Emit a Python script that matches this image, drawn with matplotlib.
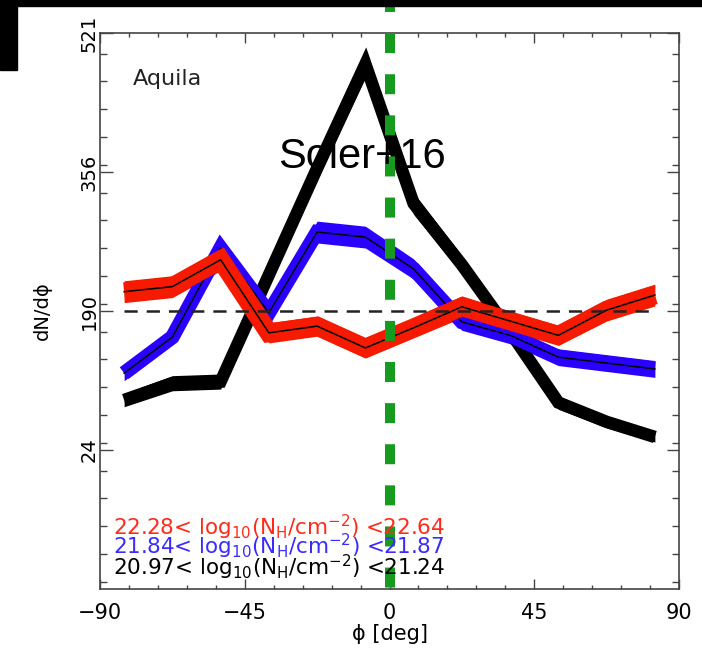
import matplotlib
matplotlib.use("Agg")
import matplotlib.pyplot as plt
from matplotlib.patches import Rectangle
from matplotlib.ticker import FixedLocator, MultipleLocator

plt.rcParams['font.family'] = ['DejaVu Sans']
plt.rcParams['lines.scale_dashes'] = False

# bin centres of the relative orientation angle
phi = [-82.5, -67.5, -52.5, -37.5, -22.5, -7.5, 7.5, 22.5, 37.5, 52.5, 67.5, 82.5]

# histograms for the three column-density bins, with their uncertainty
hist_low = [84, 104, 106, 233, 360, 484, 318, 245, 165, 81, 58, 40]
err_low = [8, 9, 9, 12, 14, 16, 13, 11, 9, 8, 7, 6]

hist_mid = [116, 159, 265, 188, 284, 278, 240, 177, 161, 135, 128, 121]
err_mid = [9, 9, 11, 9, 13, 13, 12, 10, 10, 10, 10, 10]

hist_high = [213, 219, 251, 164, 172, 146, 170, 195, 178, 161, 191, 209]
err_high = [13, 13, 13, 12, 12, 12, 12, 13, 12, 12, 13, 13]

mean_level = 190

ylim = (-141, 521)
ytick_values = [24.5, 190, 355.5, 521]
ytick_labels = ['24', '190', '356', '521']
xtick_values = [-90, -45, 0, 45, 90]

bin_labels = [
    ('22.28< log$_{10}$(N$_\\mathrm{H}$/cm$^{-2}$) <22.64', '#ff2a1a'),
    ('21.84< log$_{10}$(N$_\\mathrm{H}$/cm$^{-2}$) <21.87', '#3a2aff'),
    ('20.97< log$_{10}$(N$_\\mathrm{H}$/cm$^{-2}$) <21.24', 'black'),
]

fig = plt.figure(figsize=(7.02, 6.58), dpi=100)
ax = fig.add_axes([100 / 702, 1 - 589 / 658, 579 / 702, 556 / 658])

# error band (vertical spread plus a thick stroke) with the mean curve on top
def band(y, err, color, width, line=True):
    lo = [v - e for v, e in zip(y, err)]
    hi = [v + e for v, e in zip(y, err)]
    ax.fill_between(phi, lo, hi, color=color, lw=0)
    ax.plot(phi, y, color=color, lw=width, solid_joinstyle='miter',
            solid_capstyle='butt')
    if line:
        ax.plot(phi, y, color='black', lw=1.1)

band(hist_low, err_low, 'black', 9.0, line=False)
band(hist_mid, err_mid, '#2a00ff', 10.5)
band(hist_high, err_high, '#f51a00', 13.5)

ax.plot([phi[0], phi[-1]], [mean_level, mean_level], color='#222222', lw=1.8,
        dashes=(9.5, 6.5))

# reference orientation at phi = 0, drawn from above the frame downwards
ax.plot([0, 0], [(589 - 7) / 556, 0], transform=ax.get_xaxis_transform(),
        color='#169b1e', lw=7.2, linestyle=(10.8, (14.4, 15.2)), clip_on=False,
        dash_capstyle='butt', zorder=5)

ax.set_xlim(-90, 90)
ax.set_ylim(*ylim)
ax.xaxis.set_major_locator(FixedLocator(xtick_values))
ax.xaxis.set_minor_locator(MultipleLocator(9))
ax.set_xticklabels(['\u221290', '\u221245', '0', '45', '90'])
ax.yaxis.set_major_locator(FixedLocator(ytick_values))
ax.yaxis.set_minor_locator(MultipleLocator((ylim[1] - ylim[0]) / 20))
ax.set_yticklabels(ytick_labels)

ax.tick_params(axis='both', which='both', direction='in', top=True, right=True,
               color='#444444', width=1.0)
ax.tick_params(axis='x', which='major', length=7, labelsize=15, pad=10)
ax.tick_params(axis='x', which='minor', length=3)
ax.tick_params(axis='y', which='major', length=9, labelsize=14, pad=1,
               labelrotation=90)
ax.tick_params(axis='y', which='minor', length=5)
for lab in ax.get_yticklabels():
    lab.set_va('center')

for sp in ax.spines.values():
    sp.set_color('#444444')
    sp.set_linewidth(1.2)

ax.set_xlabel('\u03d5 [deg]', fontsize=15, labelpad=1)
ax.set_ylabel('dN/d\u03d5', fontsize=14, labelpad=20)

ax.text(0.057, 0.906, 'Aquila', transform=ax.transAxes, fontsize=16,
        va='baseline', color='#222222')
ax.text(-8.5, 360, 'Soler+16', fontsize=30, family='Liberation Sans',
        ha='center', va='baseline', zorder=6)

for (txt, col), yb in zip(bin_labels, [0.097, 0.062, 0.025]):
    ax.text(0.0225, yb, txt, transform=ax.transAxes, fontsize=15.5, color=col,
            va='baseline', zorder=7)

# dark strips along the top and left edges of the page
fig.patches.append(Rectangle((0, 1 - 6 / 658), 1, 6 / 658, transform=fig.transFigure,
                             color='black', zorder=10))
fig.patches.append(Rectangle((0, 1 - 70 / 658), 17 / 702, 70 / 658,
                             transform=fig.transFigure, color='black', zorder=10))

fig.savefig('out.png', dpi=100)
